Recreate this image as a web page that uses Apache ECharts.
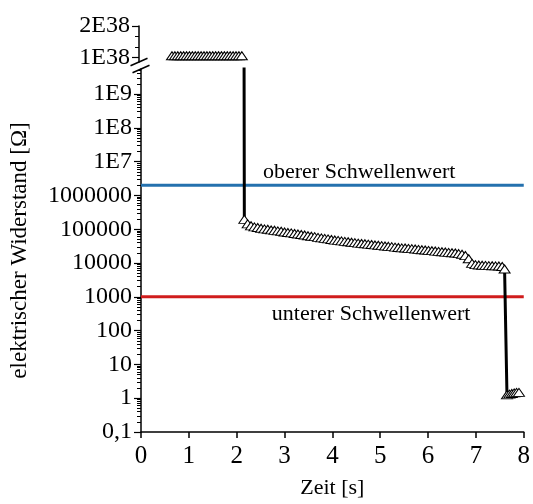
<!DOCTYPE html>
<html>
<head>
<meta charset="utf-8">
<script src="https://cdn.jsdelivr.net/npm/echarts@6/dist/echarts.min.js"></script>
<style>
  html, body { margin: 0; padding: 0; background: #ffffff; }
  #chart { width: 533px; height: 504px; }
</style>
</head>
<body>
<div id="chart"></div>
<script>
// ---- Achsen ----
const xMin = 0, xMax = 8;

// logarithmischer Teil der Widerstandsachse
const yTickValues = [0.1, 1, 10, 100, 1000, 10000, 100000, 1000000, 1e7, 1e8, 1e9];
const yTickLabels = ['0,1', '1', '10', '100', '1000', '10000', '100000', '1000000', '1E7', '1E8', '1E9'];
const yLowMin = 0.1, yLowMax = 5.5e9;

// linearer Teil oberhalb des Achsenbruchs
const yTopTickValues = [1e38, 2e38];
const yTopTickLabels = ['1E38', '2E38'];
const yTopMinorTicks = [1.33e38, 1.67e38];
const yTopMin = 0.866e38, yTopMax = 2e38;

// ---- Messwerte ----
// offener Kontakt: Widerstand als 1E38 ("unendlich") aufgezeichnet
const openTime = [0.68, 0.74, 0.80, 0.86, 0.92, 0.98, 1.04, 1.10, 1.16, 1.22, 1.28, 1.34, 1.40,
                  1.46, 1.52, 1.58, 1.64, 1.70, 1.76, 1.82, 1.88, 1.94, 2.00, 2.06, 2.12];
const openOhm  = [1e38, 1e38, 1e38, 1e38, 1e38, 1e38, 1e38, 1e38, 1e38, 1e38, 1e38, 1e38, 1e38,
                  1e38, 1e38, 1e38, 1e38, 1e38, 1e38, 1e38, 1e38, 1e38, 1e38, 1e38, 1e38];

// Kontakt schließt: Widerstand sinkt
const measTime = [2.16, 2.23, 2.30, 2.37, 2.44, 2.51, 2.58, 2.65, 2.72, 2.79, 2.86, 2.93, 3.00,
                  3.07, 3.14, 3.21, 3.28, 3.35, 3.42, 3.49, 3.56, 3.63, 3.70, 3.77, 3.84, 3.91,
                  3.98, 4.05, 4.12, 4.19, 4.26, 4.33, 4.40, 4.47, 4.54, 4.61, 4.68, 4.75, 4.82,
                  4.89, 4.96, 5.03, 5.10, 5.17, 5.24, 5.31, 5.38, 5.45, 5.52, 5.59, 5.66, 5.73,
                  5.80, 5.87, 5.94, 6.01, 6.08, 6.15, 6.22, 6.29, 6.36, 6.43, 6.50, 6.57, 6.64,
                  6.71, 6.78, 6.85, 6.92, 6.99, 7.06, 7.13, 7.20, 7.27, 7.34, 7.41, 7.48, 7.55,
                  7.60,
                  7.65, 7.70, 7.75, 7.80, 7.85, 7.90];
const measOhm  = [170000, 126000, 110000, 102000, 98000, 93000, 89000, 87000, 83000, 81000, 78000, 76000, 72000,
                  70000, 68000, 65000, 63000, 61000, 59000, 56000, 54000, 52500, 50000, 48500, 46800, 45200,
                  43200, 41700, 40700, 39400, 38000, 37200, 35900, 35100, 33900, 33100, 32400, 31600, 30900,
                  29900, 29200, 28500, 27900, 27200, 26600, 25700, 25100, 24500, 24300, 23700, 23200, 22600,
                  22100, 21600, 21100, 20700, 20200, 19700, 19300, 18800, 18400, 18000, 17600, 17200, 16600,
                  15800, 14500, 11700, 8500, 7800, 7600, 7500, 7400, 7300, 7250, 7200, 7100, 6900,
                  5800,
                  1.1, 1.15, 1.2, 1.25, 1.3, 1.3];

// ---- Schwellenwerte ----
const upperThreshold = 2e6;
const lowerThreshold = 1000;
const upperThresholdText = 'oberer Schwellenwert';
const lowerThresholdText = 'unterer Schwellenwert';

// Nebenteilung der logarithmischen Achse (2..9 je Dekade)
const yMinorTicks = [];
for (let e = -1; e <= 9; e++) {
  for (let k = 2; k <= 9; k++) yMinorTicks.push(k * Math.pow(10, e));
}

const FONT = '"Liberation Serif", "Times New Roman", serif';
const BLACK = '#000000';

function logLabel(v) {
  const lv = Math.log10(v);
  for (let i = 0; i < yTickValues.length; i++) {
    if (Math.abs(lv - Math.log10(yTickValues[i])) < 1e-6) return yTickLabels[i];
  }
  return '';
}
function topLabel(v) {
  for (let i = 0; i < yTopTickValues.length; i++) {
    if (Math.abs(v / yTopTickValues[i] - 1) < 1e-6) return yTopTickLabels[i];
  }
  return '';
}

const pairs = (xs, ys) => xs.map((x, i) => [x, ys[i]]);

// Die Verbindungslinie beginnt am letzten offenen Wert und wird am Achsenbruch abgeschnitten
const lowerData = [[openTime[openTime.length - 1], openOhm[openOhm.length - 1]]].concat(pairs(measTime, measOhm));

const triangleStyle = {
  symbol: 'triangle',
  symbolSize: [11, 8],
  symbolOffset: [0, -2],
  itemStyle: { color: '#ffffff', borderColor: BLACK, borderWidth: 1 },
  lineStyle: { color: BLACK, width: 3 },
  showAllSymbol: true,
  animation: false,
  clip: true
};

const chart = echarts.init(document.getElementById('chart'), null, { renderer: 'canvas' });

const option = {
  animation: false,
  backgroundColor: '#ffffff',
  textStyle: { fontFamily: FONT, color: BLACK },
  grid: [
    { left: 139, right: 6, top: 26, height: 36 },
    { left: 139, right: 6, top: 69, bottom: 72 }
  ],
  xAxis: [
    { type: 'value', gridIndex: 0, min: xMin, max: xMax, show: false },
    {
      type: 'value', gridIndex: 1, min: xMin, max: xMax, interval: 1,
      name: 'Zeit [s]', nameLocation: 'middle', nameGap: 45,
      nameTextStyle: { fontFamily: FONT, fontSize: 22, color: BLACK },
      axisLine: { show: true, onZero: false, lineStyle: { color: BLACK, width: 1.5 } },
      axisTick: { show: true, inside: false, length: 6, lineStyle: { color: BLACK, width: 1.5 } },
      axisLabel: { fontFamily: FONT, fontSize: 25, color: BLACK, margin: 12 },
      splitLine: { show: false }
    }
  ],
  yAxis: [
    {
      type: 'value', gridIndex: 0, position: 'left', min: yTopMin, max: yTopMax,
      axisLine: { show: true, onZero: false, lineStyle: { color: BLACK, width: 1.5 } },
      axisTick: { show: true, length: 7, customValues: yTopTickValues, lineStyle: { color: BLACK, width: 1.2 } },
      axisLabel: { fontFamily: FONT, fontSize: 24, color: BLACK, margin: 9, customValues: yTopTickValues, formatter: topLabel },
      splitLine: { show: false }
    },
    {
      type: 'value', gridIndex: 0, position: 'left', offset: 0, min: yTopMin, max: yTopMax,
      axisLine: { show: false, onZero: false },
      axisTick: { show: true, length: 4, customValues: yTopMinorTicks, lineStyle: { color: BLACK, width: 1 } },
      axisLabel: { show: false },
      splitLine: { show: false }
    },
    {
      type: 'log', logBase: 10, gridIndex: 1, position: 'left', min: yLowMin, max: yLowMax,
      name: 'elektrischer Widerstand [Ω]', nameLocation: 'middle', nameGap: 110,
      nameTextStyle: { fontFamily: FONT, fontSize: 23, color: BLACK },
      axisLine: { show: true, onZero: false, lineStyle: { color: BLACK, width: 1.5 } },
      axisTick: { show: true, length: 7, customValues: yTickValues, lineStyle: { color: BLACK, width: 1.2 } },
      axisLabel: { fontFamily: FONT, fontSize: 24, color: BLACK, margin: 9, customValues: yTickValues, formatter: logLabel },
      splitLine: { show: false }
    },
    {
      type: 'log', logBase: 10, gridIndex: 1, position: 'left', offset: 0, min: yLowMin, max: yLowMax,
      axisLine: { show: false, onZero: false },
      axisTick: { show: true, length: 4, customValues: yMinorTicks, lineStyle: { color: BLACK, width: 1 } },
      axisLabel: { show: false },
      splitLine: { show: false }
    }
  ],
  series: [
    {
      name: upperThresholdText, type: 'line', xAxisIndex: 1, yAxisIndex: 2,
      data: [[xMin, upperThreshold], [xMax, upperThreshold]],
      symbol: 'none', lineStyle: { color: '#2471ae', width: 3 }, silent: true, z: 2
    },
    {
      name: lowerThresholdText, type: 'line', xAxisIndex: 1, yAxisIndex: 2,
      data: [[xMin, lowerThreshold], [xMax, lowerThreshold]],
      symbol: 'none', lineStyle: { color: '#d01c1c', width: 3 }, silent: true, z: 2
    },
    Object.assign({
      name: 'offen', type: 'line', xAxisIndex: 0, yAxisIndex: 0,
      data: pairs(openTime, openOhm), z: 3
    }, triangleStyle),
    Object.assign({
      name: 'Widerstand', type: 'line', xAxisIndex: 1, yAxisIndex: 2,
      data: lowerData, z: 3
    }, triangleStyle)
  ]
};

chart.setOption(option);

// Achsenbruch und Beschriftung der Schwellenwerte
function addOverlay() {
  const pTop = chart.convertToPixel({ xAxisIndex: 0, yAxisIndex: 0 }, [xMin, yTopMin]);
  const pLow = chart.convertToPixel({ xAxisIndex: 1, yAxisIndex: 2 }, [xMin, yLowMax]);
  const slash = (cx, cy) => ({
    type: 'line',
    shape: { x1: cx - 8.5, y1: cy + 3.7, x2: cx + 8.5, y2: cy - 3.7 },
    style: { stroke: BLACK, lineWidth: 1.5 },
    z: 100
  });
  const pUp = chart.convertToPixel({ xAxisIndex: 1, yAxisIndex: 2 }, [4.56, upperThreshold]);
  const pDn = chart.convertToPixel({ xAxisIndex: 1, yAxisIndex: 2 }, [4.81, lowerThreshold]);
  chart.setOption({
    graphic: [
      slash(pTop[0], pTop[1]),
      slash(pLow[0], pLow[1]),
      {
        type: 'text', x: pUp[0], y: pUp[1] - 13, z: 100,
        style: { text: upperThresholdText, font: '22px ' + FONT, fill: BLACK, align: 'center', verticalAlign: 'middle' }
      },
      {
        type: 'text', x: pDn[0], y: pDn[1] + 17, z: 100,
        style: { text: lowerThresholdText, font: '22px ' + FONT, fill: BLACK, align: 'center', verticalAlign: 'middle' }
      }
    ]
  });
}
addOverlay();
</script>
</body>
</html>
